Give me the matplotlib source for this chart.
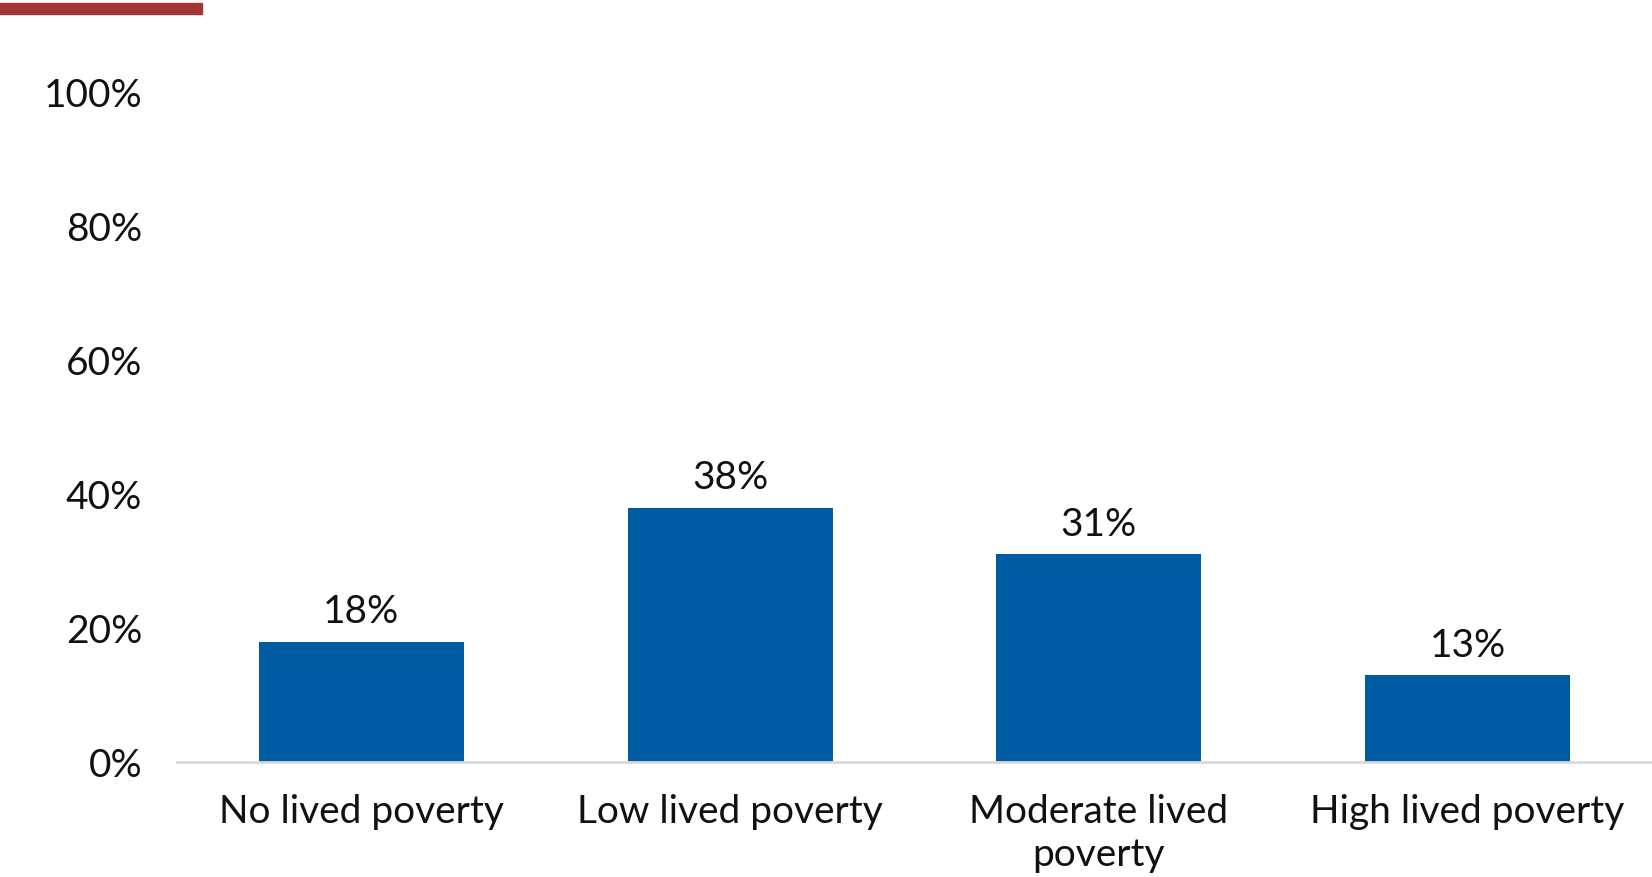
import matplotlib.pyplot as plt
import matplotlib
from matplotlib.patches import Rectangle

matplotlib.rcParams['font.family'] = ['Lato', 'DejaVu Sans']
matplotlib.rcParams['font.size'] = 28

# data
categories = ['No lived poverty', 'Low lived poverty', 'Moderate lived\npoverty', 'High lived poverty']
values = [18, 38, 31, 13]
yticks = [0, 20, 40, 60, 80, 100]

bar_color = '#005ca2'

fig = plt.figure(figsize=(16.52, 8.77), dpi=100)
ax = fig.add_axes([0.1071, 0.131, 0.8929, 0.764])

x = range(len(categories))
bars = ax.bar(x, values, width=0.556, color=bar_color)

for b, v in zip(bars, values):
    ax.annotate(f'{v}%', (b.get_x() + b.get_width() / 2, v),
                xytext=(0, 8), textcoords='offset points',
                ha='center', va='bottom', color='#111111')

ax.set_xlim(-0.5, len(categories) - 0.5)
ax.set_ylim(0, 100)
ax.set_yticks(yticks)
ax.set_yticklabels([f'{t}%' for t in yticks])
ax.set_xticks(list(x))
ax.set_xticklabels(categories, linespacing=1.25)

for s in ['top', 'right', 'left']:
    ax.spines[s].set_visible(False)
ax.spines['bottom'].set_color('#d9d9d9')
ax.spines['bottom'].set_linewidth(2)
ax.tick_params(axis='both', length=0, colors='#111111')
ax.tick_params(axis='y', pad=25)
ax.tick_params(axis='x', pad=23)

# red accent bar at top left
fig.patches.append(Rectangle((0, 1 - 14 / 877), 202 / 1652, 11 / 877,
                             transform=fig.transFigure, color='#a33535'))

fig.savefig('out.png', dpi=100)
